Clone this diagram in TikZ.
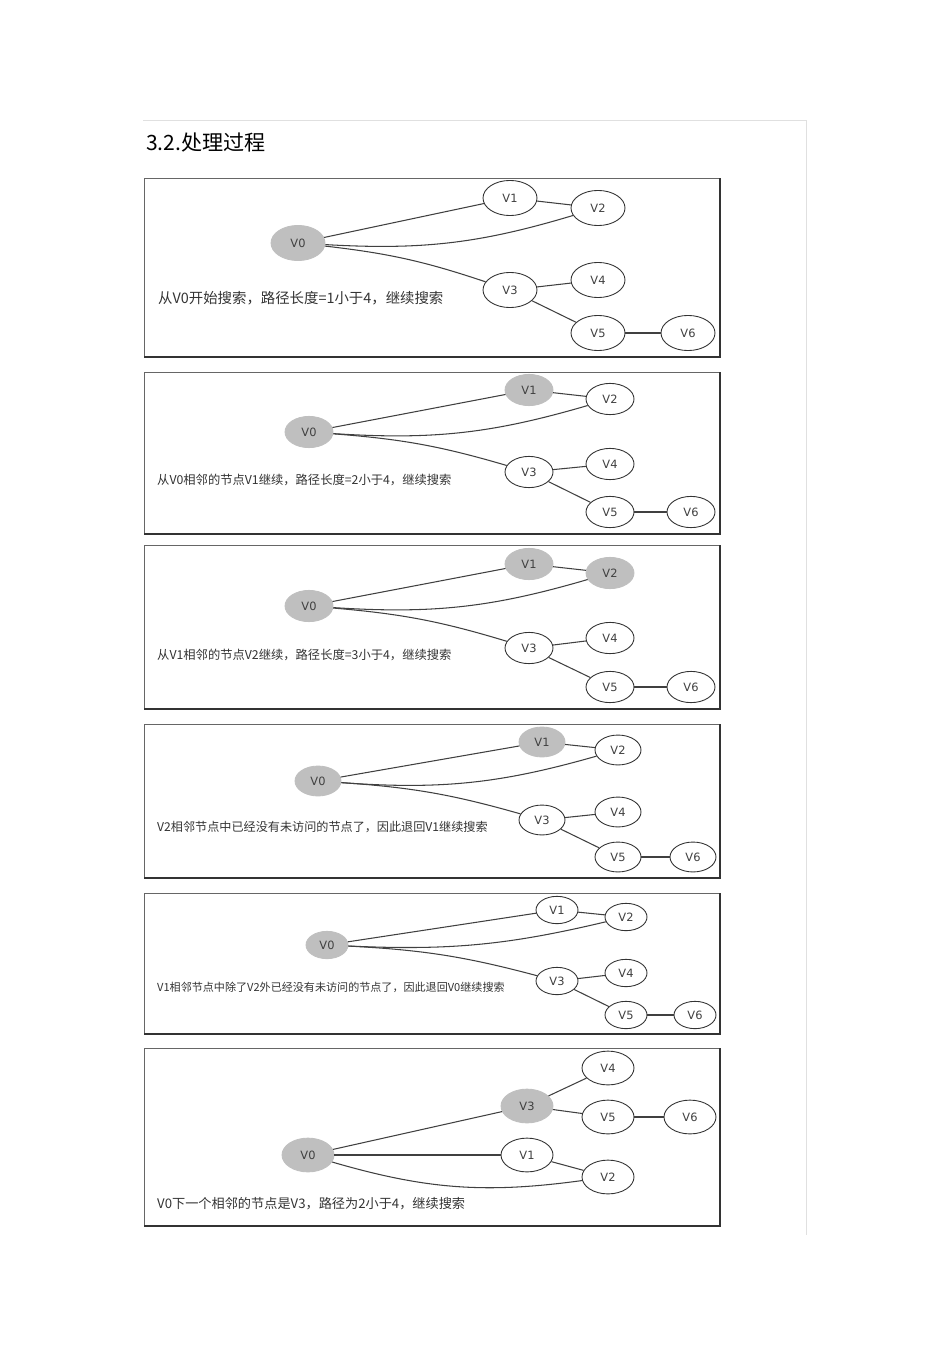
\documentclass[tikz,border=0pt]{standalone}
\usepackage{fontspec}
\setmainfont{DejaVu Sans}
\newfontfamily\cjk{Noto Sans CJK SC}
\begin{document}
\begin{tikzpicture}[x=0.02cm,y=-0.02cm,
  nd/.style={ellipse,draw=black!80,line width=0.5pt,fill=white,minimum width=#1*2*0.02cm,minimum height=#1*1.3*0.02cm,inner sep=0pt,font=\fontsize{6.5}{7}\selectfont\color{black!75}},
  nd/.default=26,
  vis/.style={fill=black!25,draw=black!25},
  ed/.style={draw=black!75,line width=0.6pt},
  lab/.style={anchor=west,font=\cjk\fontsize{#1}{8}\selectfont,text=black!80},
  box/.style={draw=black!60,line width=0.5pt}]
\usetikzlibrary{shapes.geometric}
\useasboundingbox (0,0) rectangle (950,1345);
\draw[black!12] (143,120) -- (806,120) -- (806,1235);
\node[anchor=west,font=\cjk\fontsize{12}{14}\selectfont] (title) at (140,143) {3.2.处理过程};
% Panel 1
\draw[box] (144,178) rectangle (720,357);
\draw[black!80,line width=1pt] (144,357) -- (720,357) -- (720,178);
\node[nd=27,vis] (a0) at (298,243) {V0};
\node[nd=27] (a1) at (510,198) {V1};
\node[nd=27] (a2) at (598,208) {V2};
\node[nd=27] (a3) at (510,290) {V3};
\node[nd=27] (a4) at (598,280) {V4};
\node[nd=27] (a5) at (598,333) {V5};
\node[nd=27] (a6) at (688,333) {V6};
\draw[ed] (a0) -- (a1); \draw[ed] (a1) -- (a2); \draw[ed] (a0) to[bend right=10] (a2);
\draw[ed] (a0) to[bend left=6] (a3); \draw[ed] (a3) -- (a4); \draw[ed] (a3) -- (a5); \draw[ed] (a5) -- (a6);
\node[lab=8.2] (t1) at (152,298) {从V0开始搜索，路径长度=1小于4，继续搜索};
% Panel 2
\draw[box] (144,372) rectangle (720,534);
\draw[black!80,line width=1pt] (144,534) -- (720,534) -- (720,372);
\node[nd=24,vis] (b0) at (309,432) {V0};
\node[nd=24,vis] (b1) at (529,390) {V1};
\node[nd=24] (b2) at (610,399) {V2};
\node[nd=24] (b3) at (529,472) {V3};
\node[nd=24] (b4) at (610,464) {V4};
\node[nd=24] (b5) at (610,512) {V5};
\node[nd=24] (b6) at (691,512) {V6};
\draw[ed] (b0) -- (b1); \draw[ed] (b1) -- (b2); \draw[ed] (b0) to[bend right=10] (b2);
\draw[ed] (b0) to[bend left=6] (b3); \draw[ed] (b3) -- (b4); \draw[ed] (b3) -- (b5); \draw[ed] (b5) -- (b6);
\node[lab=7] (t2) at (151,480) {从V0相邻的节点V1继续，路径长度=2小于4，继续搜索};
% Panel 3
\draw[box] (144,545) rectangle (720,709);
\draw[black!80,line width=1pt] (144,709) -- (720,709) -- (720,545);
\node[nd=24,vis] (c0) at (309,606) {V0};
\node[nd=24,vis] (c1) at (529,564) {V1};
\node[nd=24,vis] (c2) at (610,573) {V2};
\node[nd=24] (c3) at (529,648) {V3};
\node[nd=24] (c4) at (610,638) {V4};
\node[nd=24] (c5) at (610,687) {V5};
\node[nd=24] (c6) at (691,687) {V6};
\draw[ed] (c0) -- (c1); \draw[ed] (c1) -- (c2); \draw[ed] (c0) to[bend right=10] (c2);
\draw[ed] (c0) to[bend left=6] (c3); \draw[ed] (c3) -- (c4); \draw[ed] (c3) -- (c5); \draw[ed] (c5) -- (c6);
\node[lab=7] (t3) at (151,655) {从V1相邻的节点V2继续，路径长度=3小于4，继续搜索};
% Panel 4
\draw[box] (144,724) rectangle (720,878);
\draw[black!80,line width=1pt] (144,878) -- (720,878) -- (720,724);
\node[nd=23,vis] (d0) at (318,781) {V0};
\node[nd=23,vis] (d1) at (542,742) {V1};
\node[nd=23] (d2) at (618,750) {V2};
\node[nd=23] (d3) at (542,820) {V3};
\node[nd=23] (d4) at (618,812) {V4};
\node[nd=23] (d5) at (618,857) {V5};
\node[nd=23] (d6) at (693,857) {V6};
\draw[ed] (d0) -- (d1); \draw[ed] (d1) -- (d2); \draw[ed] (d0) to[bend right=10] (d2);
\draw[ed] (d0) to[bend left=6] (d3); \draw[ed] (d3) -- (d4); \draw[ed] (d3) -- (d5); \draw[ed] (d5) -- (d6);
\node[lab=6.9] (t4) at (151,827) {V2相邻节点中已经没有未访问的节点了，因此退回V1继续搜索};
% Panel 5
\draw[box] (144,893) rectangle (720,1034);
\draw[black!80,line width=1pt] (144,1034) -- (720,1034) -- (720,893);
\node[nd=21,vis] (e0) at (327,945) {V0};
\node[nd=21] (e1) at (557,910) {V1};
\node[nd=21] (e2) at (626,917) {V2};
\node[nd=21] (e3) at (557,981) {V3};
\node[nd=21] (e4) at (626,973) {V4};
\node[nd=21] (e5) at (626,1015) {V5};
\node[nd=21] (e6) at (695,1015) {V6};
\draw[ed] (e0) -- (e1); \draw[ed] (e1) -- (e2); \draw[ed] (e0) to[bend right=8] (e2);
\draw[ed] (e0) to[bend left=6] (e3); \draw[ed] (e3) -- (e4); \draw[ed] (e3) -- (e5); \draw[ed] (e5) -- (e6);
\node[lab=6.3] (t5) at (151,987) {V1相邻节点中除了V2外已经没有未访问的节点了，因此退回V0继续搜索};
% Panel 6
\draw[box] (144,1048) rectangle (720,1226);
\draw[black!80,line width=1pt] (144,1226) -- (720,1226) -- (720,1048);
\node[nd=26,vis] (f0) at (308,1155) {V0};
\node[nd=26,vis] (f3) at (527,1106) {V3};
\node[nd=26] (f4) at (608,1068) {V4};
\node[nd=26] (f5) at (608,1117) {V5};
\node[nd=26] (f6) at (690,1117) {V6};
\node[nd=26] (f1) at (527,1155) {V1};
\node[nd=26] (f2) at (608,1177) {V2};
\draw[ed] (f0) -- (f3); \draw[ed] (f3) -- (f4); \draw[ed] (f3) -- (f5); \draw[ed] (f5) -- (f6);
\draw[ed] (f0) -- (f1); \draw[ed] (f1) -- (f2); \draw[ed] (f0) to[bend right=12] (f2);
\node[lab=7.5] (t6) at (151,1204) {V0下一个相邻的节点是V3，路径为2小于4，继续搜索};
\end{tikzpicture}
\end{document}
